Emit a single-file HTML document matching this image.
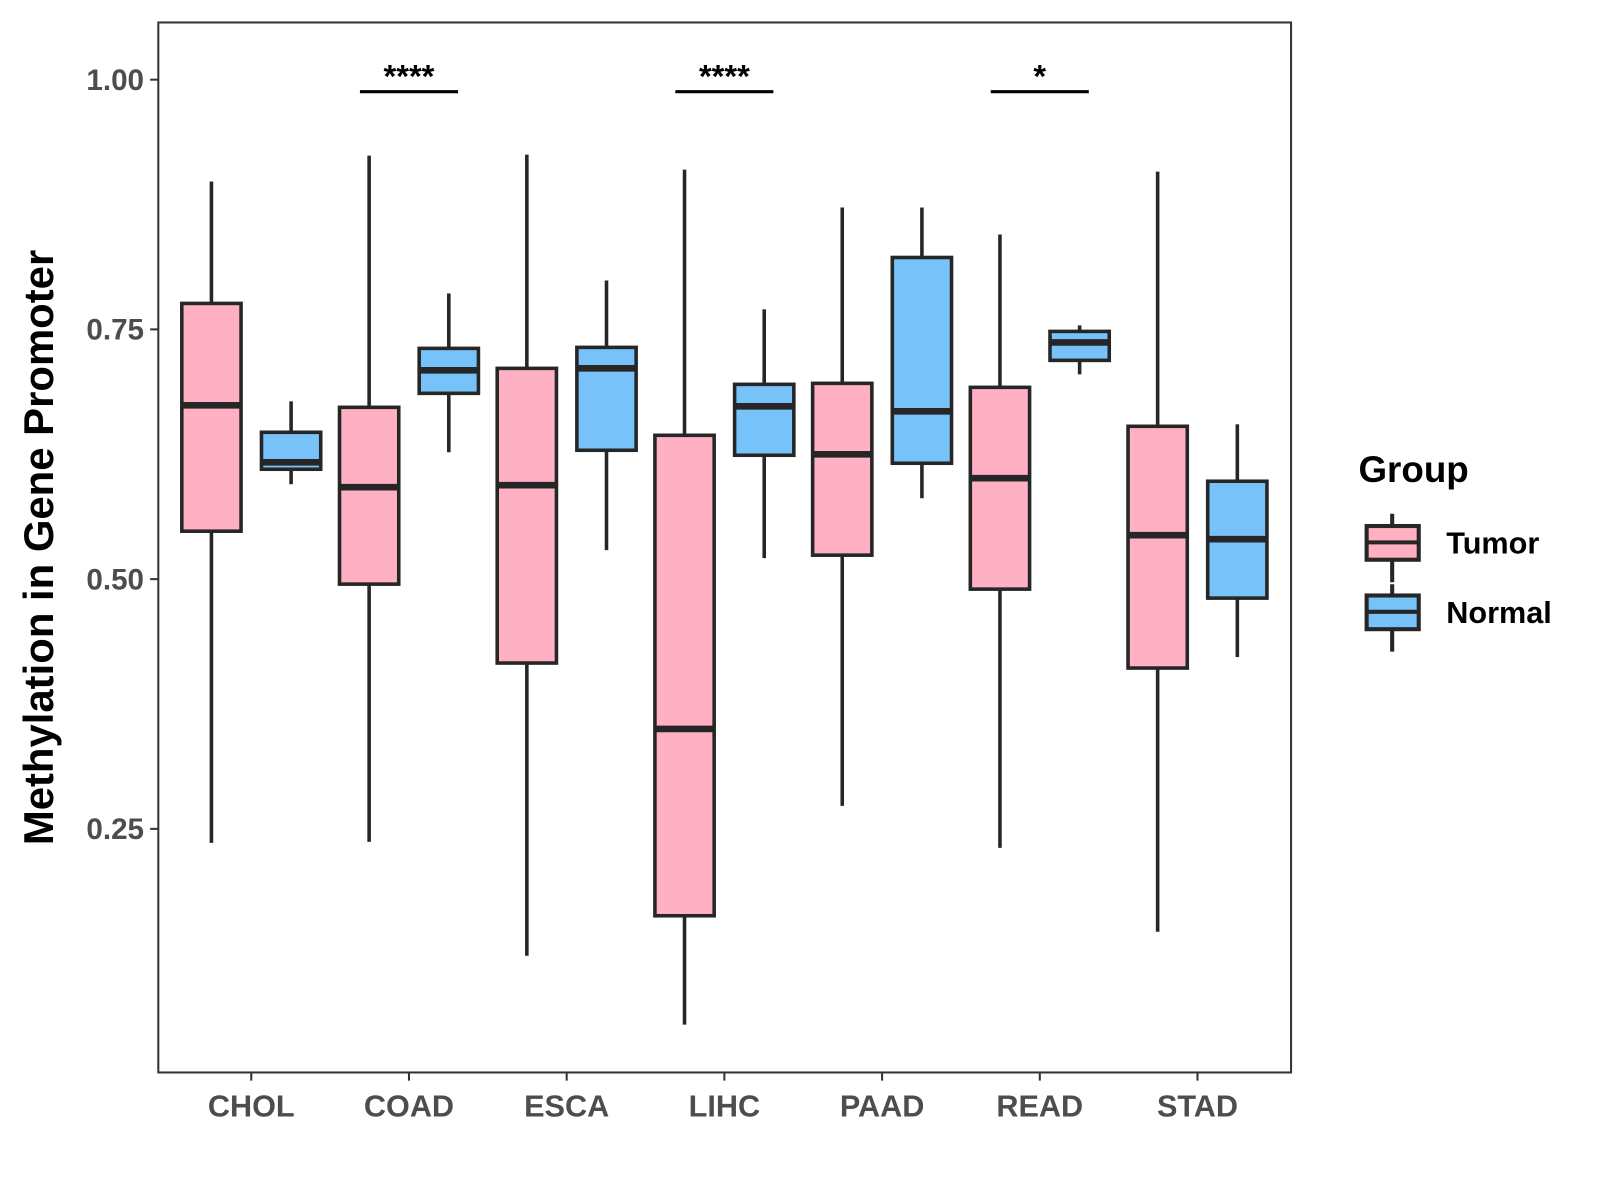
<!DOCTYPE html>
<html><head><meta charset="utf-8"><style>
html,body{margin:0;padding:0;background:#fff;}
svg{display:block;font-family:"Liberation Sans",Arial,sans-serif;}
</style></head><body>
<svg id="chart" width="1600" height="1200" viewBox="0 0 1600 1200">
<rect x="0" y="0" width="1600" height="1200" fill="#fff"/>
<g transform="scale(1.0214)">
<g id="plot"></g>
<text transform="translate(52,536) rotate(-90)" text-anchor="middle" font-size="41" font-weight="bold" fill="#000">Methylation in Gene Promoter</text>
<g>
<text x="1330" y="472" font-size="36" font-weight="bold">Group</text>
<g>
<line x1="1363" y1="503" x2="1363" y2="570" stroke="#262626" stroke-width="4"/>
<rect x="1338" y="515" width="51" height="33" fill="#FFB0C2" stroke="#262626" stroke-width="4"/>
<line x1="1338" y1="531" x2="1389" y2="531" stroke="#262626" stroke-width="4"/>
<text x="1416" y="542" font-size="30" font-weight="bold">Tumor</text>
</g>
<g>
<line x1="1363" y1="572" x2="1363" y2="638" stroke="#262626" stroke-width="4"/>
<rect x="1338" y="583" width="51" height="33" fill="#77C2F8" stroke="#262626" stroke-width="4"/>
<line x1="1338" y1="599" x2="1389" y2="599" stroke="#262626" stroke-width="4"/>
<text x="1416" y="610" font-size="30" font-weight="bold">Normal</text>
</g>
</g>
</g>
</svg>
<script>
const categories = ["CHOL","COAD","ESCA","LIHC","PAAD","READ","STAD"];
// [lowerWhisker, q1, median, q3, upperWhisker]
const tumorStats = [
 [0.236,0.548,0.674,0.776,0.898],
 [0.237,0.495,0.592,0.672,0.924],
 [0.123,0.416,0.594,0.711,0.925],
 [0.054,0.163,0.350,0.644,0.910],
 [0.273,0.524,0.625,0.696,0.872],
 [0.231,0.490,0.601,0.692,0.845],
 [0.147,0.411,0.544,0.653,0.908]
];
const normalStats = [
 [0.595,0.610,0.617,0.647,0.678],
 [0.627,0.686,0.709,0.731,0.786],
 [0.529,0.629,0.711,0.732,0.799],
 [0.521,0.624,0.673,0.695,0.770],
 [0.581,0.616,0.668,0.822,0.872],
 [0.705,0.719,0.737,0.748,0.754],
 [0.422,0.481,0.540,0.598,0.655]
];
const yTicks = [0.25,0.50,0.75,1.00];
const yTickLabels = ["0.25","0.50","0.75","1.00"];
const sigCategories = ["COAD","LIHC","READ"];
const sigLabels = ["****","****","*"];
const sigLevel = 0.988;

const NS="http://www.w3.org/2000/svg";
const P={l:155,r:1264,t:22,b:1050};
function yS(v){return 78+(1-v)*978;}
function xS(i){return 246+i*154.4;}
const g=document.getElementById('plot');
function mk(tag,attrs,parent){const e=document.createElementNS(NS,tag);for(const k in attrs)e.setAttribute(k,attrs[k]);(parent||g).appendChild(e);return e;}

const frame=mk('rect',{x:P.l,y:P.t,width:P.r-P.l,height:P.b-P.t,fill:'none',stroke:'#333',"stroke-width":2});



yTicks.forEach((v,i)=>{
  const t=mk('line',{x1:P.l-8,x2:P.l,y1:yS(v),y2:yS(v),stroke:'#333',"stroke-width":2});
  
  
  const l=mk('text',{x:P.l-14,y:yS(v)+10,"text-anchor":'end',"font-size":29,"font-weight":'bold',fill:'#4d4d4d'});
  l.textContent=yTickLabels[i];
  
  
});
categories.forEach((c,i)=>{
  const t=mk('line',{x1:xS(i),x2:xS(i),y1:P.b,y2:P.b+8,stroke:'#333',"stroke-width":2});
  
  
  const l=mk('text',{x:xS(i),y:1093,"text-anchor":'middle',"font-size":30,"font-weight":'bold',fill:'#4d4d4d'});
  l.textContent=c;
  
  
});
function box(cx,s,fill,name){
  const bg=mk('g',{});
  
  
  const hw=29;
  mk('line',{x1:cx,x2:cx,y1:yS(s[4]),y2:yS(s[3]),stroke:'#262626',"stroke-width":3.5},bg);
  mk('line',{x1:cx,x2:cx,y1:yS(s[1]),y2:yS(s[0]),stroke:'#262626',"stroke-width":3.5},bg);
  mk('rect',{x:cx-hw,y:yS(s[3]),width:2*hw,height:yS(s[1])-yS(s[3]),fill:fill,stroke:'#262626',"stroke-width":3.5},bg);
  mk('line',{x1:cx-hw,x2:cx+hw,y1:yS(s[2]),y2:yS(s[2]),stroke:'#262626',"stroke-width":6.5},bg);
}
categories.forEach((c,i)=>{
  box(xS(i)-39,tumorStats[i],'#FFB0C2','box-tumor-'+c.toLowerCase());
  box(xS(i)+39,normalStats[i],'#77C2F8','box-normal-'+c.toLowerCase());
});
sigCategories.forEach((c,j)=>{
  const i=categories.indexOf(c);
  const l=mk('line',{x1:xS(i)-48,x2:xS(i)+48,y1:yS(sigLevel),y2:yS(sigLevel),stroke:'#000',"stroke-width":3});
  
  
  const t=mk('text',{x:xS(i),y:yS(sigLevel)-4,"text-anchor":'middle',"font-size":32,"font-weight":'bold'});
  t.textContent=sigLabels[j];
  
  
});
</script>
</body></html>
